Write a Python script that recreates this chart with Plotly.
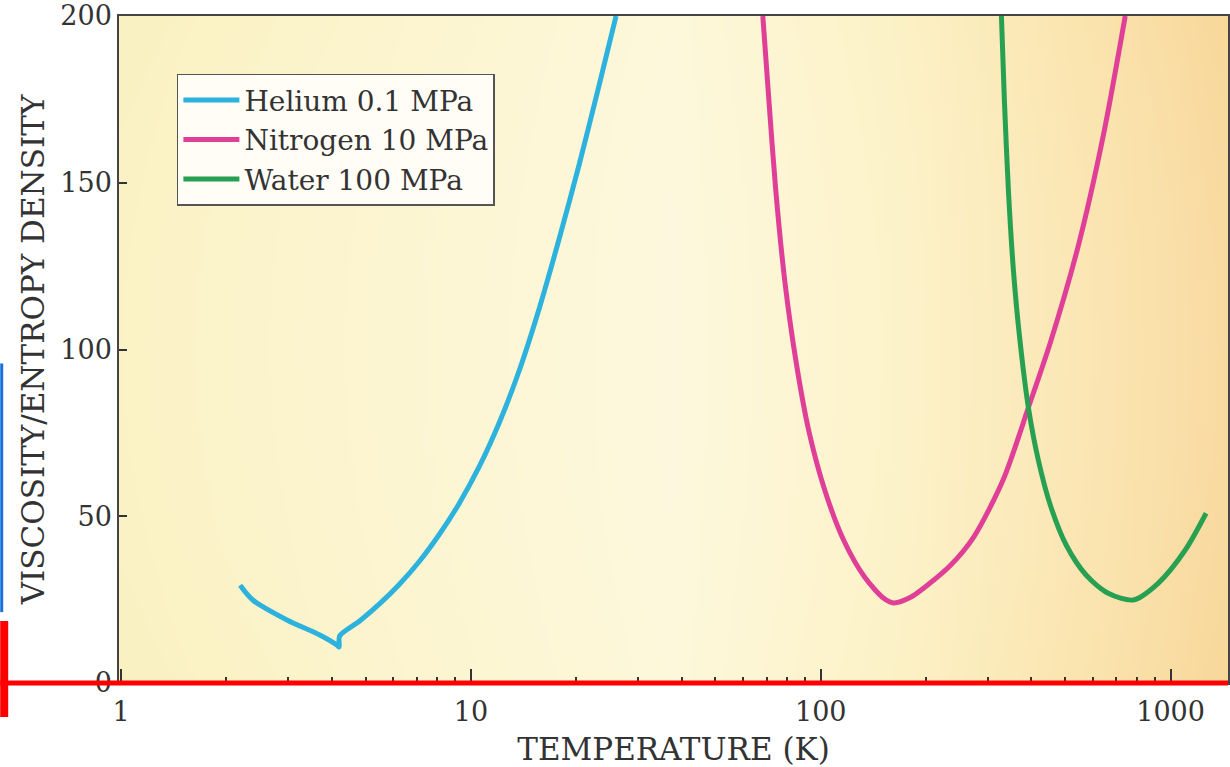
import base64
import struct
import zlib

import numpy as np
import plotly.graph_objects as go

# ---------------- data ----------------
helium_T = [2.19, 2.38, 2.98, 3.70, 4.15, 4.20, 4.216, 4.81, 5.48, 6.25, 7.13, 8.13, 9.27,
            10.58, 12.06, 13.75, 15.68, 17.88, 20.39, 23.26, 26.0]
helium_v = [29.3, 24.9, 18.9, 14.4, 11.3, 10.8, 14.1, 18.6, 23.7, 29.6, 36.5, 44.6, 53.9,
            65.0, 78.1, 93.7, 112.3, 133.2, 155.4, 179.3, 200.0]

nitrogen_T = [68.3, 71.1, 74.4, 78.9, 84.9, 92.4, 102.7, 116.3, 133.6, 151.3, 161.6,
              180.6, 203.3, 234.9, 273.3, 332.7, 392.2, 453.2, 544.6, 641.9, 741.8]
nitrogen_v = [200.0, 174.6, 147.6, 120.7, 96.7, 75.7, 57.8, 42.8, 31.7, 25.4, 24.0,
              25.7, 29.6, 35.3, 43.7, 61.1, 82.6, 102.1, 131.1, 164.1, 200.0]

water_T = [328.4, 334.9, 343.9, 355.4, 369.7, 392.2, 418.8, 453.2, 503.3, 574.2, 663.2,
           781.6, 921.1, 1100, 1263]
water_v = [200.0, 174.6, 147.6, 123.7, 104.2, 82.6, 66.8, 53.3, 41.3, 32.3, 26.9,
           24.9, 29.9, 39.8, 50.9]

series_names = ["Helium 0.1 MPa", "Nitrogen 10 MPa", "Water 100 MPa"]
x_tick_vals = [1, 10, 100, 1000]
x_tick_text = ["1", "10", "100", "1000"]
y_tick_vals = [0, 50, 100, 150, 200]

# ---------------- style ----------------
FONT = "DejaVu Serif"
TXT = "#333333"
colors = ["#2db2de", "#e03f98", "#27a052"]


# background gradient as an embedded PNG (pure style)
def make_png(rgb):
    h, w, _ = rgb.shape
    raw = b"".join(b"\x00" + rgb[r].astype(np.uint8).tobytes() for r in range(h))

    def chunk(tag, data):
        c = struct.pack(">I", len(data)) + tag + data
        return c + struct.pack(">I", zlib.crc32(tag + data) & 0xFFFFFFFF)

    png = b"\x89PNG\r\n\x1a\n"
    png += chunk(b"IHDR", struct.pack(">IIBBBBB", w, h, 8, 2, 0, 0, 0))
    png += chunk(b"IDAT", zlib.compress(raw, 9))
    png += chunk(b"IEND", b"")
    return "data:image/png;base64," + base64.b64encode(png).decode()


W, H = 300, 160
u = np.linspace(0, 1, W)
v = np.linspace(0, 1, H)
stops_u = [0.0, 0.2, 0.5, 0.7, 0.88, 1.0]
stops_c = np.array([
    [251, 242, 198],
    [252, 245, 208],
    [254, 249, 222],
    [253, 243, 203],
    [251, 230, 180],
    [249, 219, 162],
], dtype=float)
row = np.stack([np.interp(u, stops_u, stops_c[:, k]) for k in range(3)], axis=1)
img = np.repeat(row[None, :, :], H, axis=0)
edge = (np.abs(v - 0.5) * 2) ** 2 * 0.08
white = np.array([255, 255, 255], dtype=float)
img = white + (img - white) * (1 + edge[:, None, None])
img = np.clip(img, 0, 255)
bg_src = make_png(img)

fig = go.Figure()
for name, xs, ys, col in zip(series_names, [helium_T, nitrogen_T, water_T],
                             [helium_v, nitrogen_v, water_v], colors):
    fig.add_trace(go.Scatter(
        x=xs, y=ys, mode="lines", name=name,
        line=dict(color=col, width=5, shape="spline", smoothing=0.8),
        legendgroup=name,
    ))

fig.add_layout_image(dict(
    source=bg_src, xref="paper", yref="paper", x=0, y=1, sizex=1, sizey=1,
    sizing="stretch", layer="below", xanchor="left", yanchor="top",
))

# red / blue marker artefacts of the reference
fig.add_shape(type="line", xref="paper", yref="paper", x0=-119 / 1111, x1=1.0, y0=0, y1=0,
              line=dict(color="#ff0000", width=5), layer="above")
fig.add_shape(type="rect", xref="paper", yref="paper",
              x0=-119 / 1111, x1=-111 / 1111, y0=-34 / 668, y1=62 / 668,
              line=dict(width=0), fillcolor="#ff0000", layer="above")
fig.add_shape(type="rect", xref="paper", yref="paper",
              x0=-119 / 1111, x1=-116 / 1111, y0=71 / 668, y1=320 / 668,
              line=dict(width=0), fillcolor="#1b6fe0", layer="above")

minor_vals = [m * d for d in (1, 10, 100, 1000) for m in range(2, 10)]

fig.update_layout(
    width=1230, height=767,
    margin=dict(l=119, r=0, t=15, b=84),
    paper_bgcolor="white",
    plot_bgcolor="rgba(0,0,0,0)",
    font=dict(family=FONT, size=27, color=TXT),
    showlegend=True,
    legend=dict(
        x=58 / 1111, y=(683 - 73) / 668, xanchor="left", yanchor="top",
        bgcolor="#fffdf6", bordercolor="#555555", borderwidth=1.5,
        font=dict(family=FONT, size=28, color=TXT),
        itemwidth=56,
        traceorder="grouped", tracegroupgap=0,
    ),
    xaxis=dict(
        type="log", range=[-0.0057, 3.164],
        tickvals=x_tick_vals, ticktext=x_tick_text,
        ticks="inside", ticklen=14, tickwidth=1.5, tickcolor="#333",
        minor=dict(tickvals=minor_vals, ticks="inside", ticklen=6, tickwidth=1.5, tickcolor="#333"),
        showline=True, linecolor="#444", linewidth=1.5, mirror=True,
        showgrid=False, zeroline=False,
        tickfont=dict(family=FONT, size=27, color=TXT),
        ticklabelstandoff=4,
        title=dict(text="TEMPERATURE (K)", font=dict(family=FONT, size=31, color=TXT), standoff=12),
    ),
    yaxis=dict(
        range=[0, 200], tickvals=y_tick_vals,
        ticks="inside", ticklen=8, tickwidth=1.5, tickcolor="#333",
        showline=True, linecolor="#444", linewidth=1.5, mirror=True,
        showgrid=False, zeroline=False,
        tickfont=dict(family=FONT, size=27, color=TXT),
        ticklabeloverflow="allow",
        title=dict(text="VISCOSITY/ENTROPY DENSITY", font=dict(family=FONT, size=31, color=TXT), standoff=6),
    ),
)

fig.write_html("out.html")
